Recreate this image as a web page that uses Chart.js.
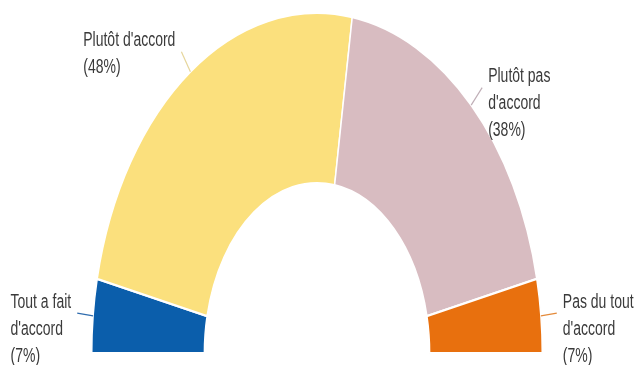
<!DOCTYPE html>
<html>
<head>
<meta charset="utf-8">
<script src="https://cdn.jsdelivr.net/npm/chart.js@4/dist/chart.umd.min.js"></script>
<style>
    html, body { margin: 0; padding: 0; background: #fff; }
    #wrap { width: 638px; height: 365px; position: relative; }
</style>
</head>
<body>
<div id="wrap"><canvas id="chart"></canvas></div>
<script>
// Answers, left to right along the arc
const categories = [
    ['Tout a fait', "d'accord"],
    ["Plutôt d'accord"],
    ['Plutôt pas', "d'accord"],
    ['Pas du tout', "d'accord"]
];
const shares = [7, 48, 38, 7];
const sliceColors = ['#0b5eab', '#fbe07d', '#d8bcc1', '#e8700e'];
const leaderColors = ['#2f6cae', '#e6d69c', '#bfaeb6', '#e48a3a'];

// The original picture is stretched vertically
const STRETCH = 1.51;
const TEXT_STRETCH = 1.4;
const LINE_GAP = 27;

const stretchPlugin = {
    id: 'stretch',
    beforeDatasetsDraw(chart) {
        const arc = chart.getDatasetMeta(0).data[0];
        const ctx = chart.ctx;
        ctx.save();
        ctx.translate(arc.x, arc.y);
        ctx.scale(1, STRETCH);
        ctx.translate(-arc.x, -arc.y);
    },
    afterDatasetsDraw(chart) {
        const ctx = chart.ctx;
        ctx.restore();

        // leader lines and labels, from each arc's mid angle
        const arcs = chart.getDatasetMeta(0).data;
        ctx.save();
        ctx.font = '14px "Liberation Sans", Arial, sans-serif';
        ctx.textBaseline = 'middle';
        ctx.textAlign = 'left';
        arcs.forEach((arc, i) => {
            const mid = (arc.startAngle + arc.endAngle) / 2;
            const r = arc.outerRadius;
            const toY = y => arc.y + (y - arc.y) * STRETCH;
            const x1 = arc.x + Math.cos(mid) * r;
            const y1 = toY(arc.y + Math.sin(mid) * r);
            const x2 = arc.x + Math.cos(mid) * (r + 16);
            const y2 = toY(arc.y + Math.sin(mid) * (r + 16));

            ctx.strokeStyle = leaderColors[i];
            ctx.lineWidth = 1.2;
            ctx.beginPath();
            ctx.moveTo(x1, y1);
            ctx.lineTo(x2, y2);
            ctx.stroke();

            const lines = categories[i].concat(['(' + shares[i] + '%)']);
            const w = Math.max(...lines.map(l => ctx.measureText(l).width));
            const left = x2 < arc.x ? x2 - 6 - w : x2 + 6;
            const top = y2 - 11;
            ctx.fillStyle = '#3a3a3a';
            lines.forEach((line, j) => {
                ctx.save();
                ctx.translate(left, top + j * LINE_GAP);
                ctx.scale(1, TEXT_STRETCH);
                ctx.fillText(line, 0, 0);
                ctx.restore();
            });
        });
        ctx.restore();
    }
};

new Chart(document.getElementById('chart'), {
    type: 'doughnut',
    data: {
        labels: categories.map(c => c.join(' ')),
        datasets: [{
            data: shares,
            backgroundColor: sliceColors,
            borderColor: '#ffffff',
            borderWidth: 1.5,
            clip: false
        }]
    },
    options: {
        responsive: true,
        maintainAspectRatio: false,
        animation: false,
        rotation: -90,
        circumference: 180,
        cutout: '50%',
        layout: { padding: { left: 91, right: 95, top: 127, bottom: 11 } },
        events: [],
        plugins: {
            legend: { display: false },
            tooltip: { enabled: false }
        }
    },
    plugins: [stretchPlugin]
});
</script>
</body>
</html>
